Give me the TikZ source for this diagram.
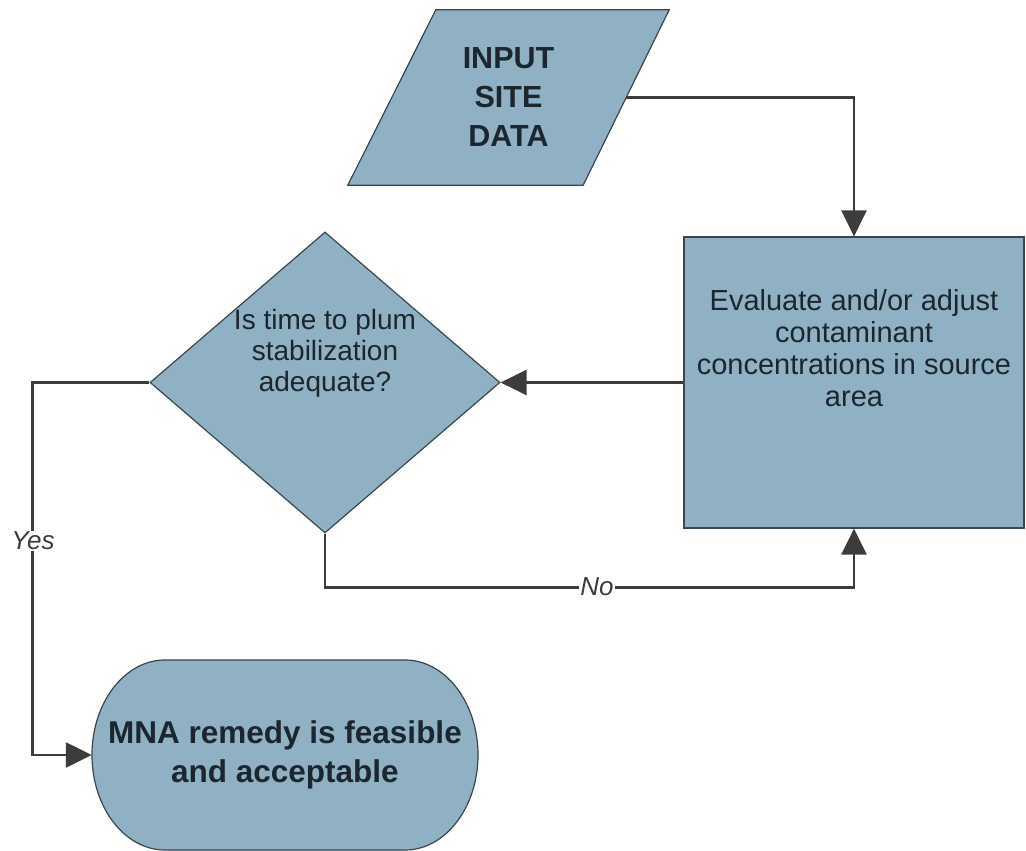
\documentclass[tikz,border=0pt]{standalone}
\usepackage{fontspec}
\setmainfont{Liberation Sans}
\usetikzlibrary{shapes.geometric,arrows.meta,backgrounds}
\definecolor{boxfill}{HTML}{8FB1C3}
\definecolor{boxline}{HTML}{3A4650}
\definecolor{txt}{HTML}{1B262E}
\definecolor{conn}{HTML}{3C3C3C}
\tikzset{
  x=1pt,y=1pt,
  shapestyle/.style={fill=boxfill,draw=boxline,line width=1.2pt},
  plaintext/.style={text=txt,align=center,inner sep=0pt,font=\fontsize{29}{32}\selectfont},
  boldtext/.style={text=txt,align=center,inner sep=0pt,font=\bfseries\fontsize{31.5}{39}\selectfont},
  connector/.style={draw=conn,line width=2.5pt,-{Triangle[length=26pt,width=25pt]}},
  lbl/.style={fill=white,text=conn,inner sep=1pt,font=\itshape\fontsize{26}{30}\selectfont}
}
\begin{document}
\begin{tikzpicture}
\useasboundingbox (0,0) rectangle (1026,-851);

% Input parallelogram (text node, outline drawn on background)
\node[boldtext,minimum width=321pt,minimum height=175pt,font=\bfseries\fontsize{30.5}{39}\selectfont] (inp) at (508.5,-97.5) {INPUT\\SITE\\DATA};

% Process rectangle
\node[shapestyle,rectangle,minimum width=340pt,minimum height=291pt,inner sep=0pt] (rect) at (854,-382.5) {};
\node[plaintext] (rectt) at ([yshift=34pt]rect.center) {Evaluate and/or adjust\\contaminant\\concentrations in source\\area};

% Decision diamond
\node[shapestyle,diamond,minimum width=350pt,minimum height=301pt,inner sep=0pt] (dia) at (325,-382.5) {};
\node[plaintext,font=\fontsize{28}{31}\selectfont] (diat) at ([yshift=29pt]dia.center) {Is time to plum\\stabilization\\adequate?};

% Terminal
\node[boldtext,minimum width=386pt,minimum height=190pt] (term) at (285,-755) {MNA remedy is feasible\\and acceptable};

\begin{scope}[on background layer]
  \fill[white] (0,0) rectangle (1026,-851);
  \path[shapestyle] (inp.south west) -- ([xshift=-86pt]inp.south east) -- (inp.north east) -- ([xshift=88pt]inp.north west) -- cycle;
  \path[shapestyle] (165,-660) -- (405,-660) arc[start angle=90,end angle=-90,x radius=73,y radius=95] -- (165,-850) arc[start angle=270,end angle=90,x radius=73,y radius=95] -- cycle;
\end{scope}

% Connectors
\coordinate (inR) at ([xshift=-43pt]inp.east);
\draw[connector] (inR) -| (rect.north);
\draw[connector] (rect.west) -- (dia.east);
\draw[connector] (dia.south) -- ++(0,-54) -| (rect.south);
\draw[connector] (dia.west) -- ++(-117,0) |- (term.west);

% Labels
\node[lbl] (no) at (597,-587) {No};
\node[lbl] (yes) at (33,-541) {Yes};
\end{tikzpicture}
\end{document}
